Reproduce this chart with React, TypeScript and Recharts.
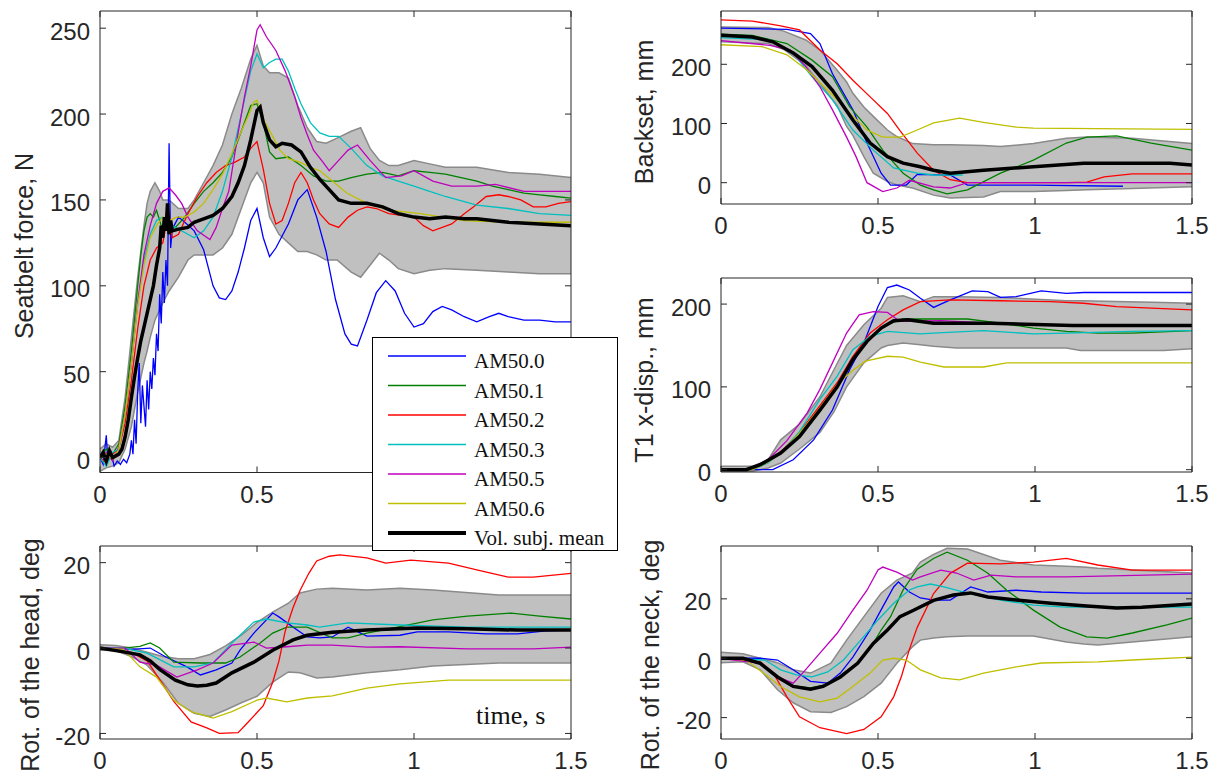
import { ComposedChart, Line, Area, XAxis, YAxis, Legend, Customized } from 'recharts'

type Pt = [number, number]
type Band = [number, number, number]

const sans = '"Liberation Sans", Arial, Helvetica, sans-serif'
const serif = '"Liberation Serif", "Times New Roman", serif'
const ink = '#262626'

const subjects = ['AM50.0', 'AM50.1', 'AM50.2', 'AM50.3', 'AM50.5', 'AM50.6']
const subjectColors = ['#0000ff', '#008000', '#ff0000', '#00bfbf', '#bf00bf', '#bfbf00']
const meanName = 'Vol. subj. mean'
const xTicks = [0, 0.5, 1, 1.5]

// Seatbelt force, N
const beltBlue: Pt[] = [[0, 0], [0.01, -4], [0.02, 13], [0.025, -2], [0.035, 3], [0.045, -5], [0.055, -2], [0.065, -4], [0.075, -1], [0.085, -3], [0.095, 2], [0.1, 10], [0.105, 2], [0.11, 22], [0.115, 8], [0.12, 38], [0.125, 55], [0.13, 20], [0.135, 42], [0.14, 30], [0.145, 18], [0.15, 45], [0.155, 28], [0.16, 50], [0.165, 40], [0.17, 58], [0.175, 48], [0.18, 72], [0.185, 62], [0.19, 95], [0.195, 78], [0.2, 108], [0.205, 90], [0.21, 115], [0.215, 100], [0.22, 183], [0.225, 122], [0.23, 133], [0.25, 140], [0.27, 137], [0.3, 132], [0.33, 121], [0.36, 100], [0.38, 93], [0.4, 92], [0.42, 97], [0.44, 108], [0.46, 122], [0.48, 138], [0.5, 145], [0.52, 128], [0.54, 117], [0.56, 122], [0.6, 136], [0.63, 150], [0.66, 156], [0.69, 140], [0.72, 120], [0.75, 92], [0.78, 72], [0.8, 66], [0.82, 65], [0.85, 80], [0.88, 96], [0.91, 103], [0.94, 97], [0.97, 84], [1.0, 76], [1.03, 78], [1.06, 85], [1.09, 88], [1.12, 86], [1.16, 82], [1.2, 79], [1.24, 82], [1.27, 84], [1.3, 82], [1.35, 80], [1.4, 80], [1.45, 79], [1.5, 79]]
const beltGreen: Pt[] = [[0, 0], [0.02, 5], [0.04, 2], [0.06, 8], [0.08, 30], [0.1, 62], [0.12, 100], [0.13, 118], [0.14, 132], [0.15, 140], [0.16, 142], [0.17, 140], [0.18, 144], [0.19, 138], [0.2, 132], [0.22, 136], [0.24, 134], [0.27, 140], [0.3, 148], [0.33, 155], [0.36, 160], [0.39, 166], [0.42, 175], [0.45, 190], [0.48, 205], [0.5, 206], [0.52, 195], [0.54, 178], [0.56, 174], [0.6, 175], [0.64, 170], [0.68, 164], [0.72, 161], [0.76, 161], [0.8, 163], [0.85, 165], [0.9, 166], [0.95, 164], [1.0, 167], [1.05, 166], [1.1, 165], [1.15, 163], [1.2, 161], [1.25, 158], [1.3, 156], [1.35, 154], [1.4, 153], [1.45, 152], [1.5, 151]]
const beltRed: Pt[] = [[0, 0], [0.02, -3], [0.04, 2], [0.06, 5], [0.08, 20], [0.1, 45], [0.12, 75], [0.14, 100], [0.16, 115], [0.18, 122], [0.2, 125], [0.21, 135], [0.22, 142], [0.23, 128], [0.25, 130], [0.28, 142], [0.31, 152], [0.34, 160], [0.37, 166], [0.4, 170], [0.43, 172], [0.46, 175], [0.48, 180], [0.5, 184], [0.52, 168], [0.54, 148], [0.56, 136], [0.58, 138], [0.6, 148], [0.62, 160], [0.64, 166], [0.66, 160], [0.68, 150], [0.7, 142], [0.73, 136], [0.76, 134], [0.79, 140], [0.82, 144], [0.85, 146], [0.88, 145], [0.92, 142], [0.96, 141], [1.0, 140], [1.03, 135], [1.06, 132], [1.09, 134], [1.12, 136], [1.16, 142], [1.19, 146], [1.23, 152], [1.27, 153], [1.3, 152], [1.34, 150], [1.38, 146], [1.42, 146], [1.46, 148], [1.5, 149]]
const beltCyan: Pt[] = [[0, 0], [0.02, -5], [0.04, 3], [0.06, 5], [0.08, 25], [0.1, 55], [0.12, 90], [0.14, 115], [0.16, 130], [0.18, 138], [0.2, 140], [0.22, 136], [0.25, 133], [0.28, 130], [0.3, 128], [0.33, 132], [0.36, 140], [0.39, 155], [0.42, 175], [0.45, 200], [0.48, 225], [0.5, 235], [0.52, 227], [0.54, 230], [0.56, 232], [0.58, 232], [0.6, 225], [0.62, 215], [0.64, 206], [0.67, 195], [0.7, 189], [0.73, 187], [0.76, 187], [0.8, 180], [0.85, 170], [0.9, 164], [0.95, 161], [1.0, 158], [1.05, 155], [1.1, 152], [1.2, 147], [1.3, 145], [1.4, 142], [1.5, 141]]
const beltMagenta: Pt[] = [[0, 0], [0.02, 3], [0.04, -2], [0.06, 6], [0.08, 25], [0.1, 55], [0.12, 90], [0.14, 118], [0.16, 135], [0.18, 148], [0.2, 155], [0.22, 157], [0.24, 153], [0.26, 148], [0.28, 140], [0.31, 132], [0.35, 127], [0.37, 134], [0.39, 145], [0.41, 155], [0.44, 189], [0.46, 210], [0.48, 228], [0.5, 249], [0.51, 252], [0.53, 245], [0.56, 237], [0.59, 225], [0.62, 210], [0.64, 198], [0.66, 188], [0.68, 179], [0.71, 172], [0.73, 167], [0.76, 173], [0.79, 179], [0.82, 182], [0.86, 173], [0.91, 163], [0.96, 164], [1.0, 167], [1.06, 161], [1.12, 158], [1.2, 158], [1.26, 159], [1.35, 155], [1.42, 155], [1.5, 155]]
const beltYellow: Pt[] = [[0, 0], [0.02, 2], [0.04, -1], [0.06, 5], [0.08, 25], [0.1, 55], [0.12, 88], [0.14, 112], [0.16, 128], [0.18, 135], [0.2, 140], [0.22, 138], [0.245, 140], [0.27, 140], [0.3, 143], [0.33, 148], [0.36, 156], [0.39, 165], [0.42, 177], [0.45, 190], [0.47, 198], [0.49, 207], [0.5, 208], [0.52, 197], [0.55, 187], [0.573, 179], [0.6, 174], [0.637, 172], [0.67, 169], [0.7, 167], [0.74, 161], [0.786, 154], [0.85, 148], [0.92, 144], [1.02, 142], [1.16, 138], [1.3, 137], [1.5, 137]]
const beltMean: Pt[] = [[0, 0], [0.01, 3], [0.02, -2], [0.03, 4], [0.04, 0], [0.05, 1], [0.06, 2], [0.07, 5], [0.08, 12], [0.09, 22], [0.1, 35], [0.11, 47], [0.12, 58], [0.13, 68], [0.14, 76], [0.15, 84], [0.16, 92], [0.17, 100], [0.18, 112], [0.19, 122], [0.195, 135], [0.2, 128], [0.205, 140], [0.21, 132], [0.215, 148], [0.22, 130], [0.225, 138], [0.23, 132], [0.25, 133], [0.28, 134], [0.3, 137], [0.33, 139], [0.36, 141], [0.39, 145], [0.42, 152], [0.44, 160], [0.46, 170], [0.48, 185], [0.5, 202], [0.51, 204], [0.52, 195], [0.54, 185], [0.56, 181], [0.58, 183], [0.61, 182], [0.64, 178], [0.67, 169], [0.7, 162], [0.73, 156], [0.76, 150], [0.8, 148], [0.85, 148], [0.9, 146], [0.95, 142], [1.0, 140], [1.05, 139], [1.1, 140], [1.16, 139], [1.2, 139], [1.3, 137], [1.4, 136], [1.5, 135]]
const beltBand: Band[] = [[0, -8, 5], [0.02, -6, 8], [0.04, -5, 6], [0.06, -3, 10], [0.08, 5, 35], [0.1, 18, 70], [0.12, 38, 105], [0.14, 55, 135], [0.15, 62, 148], [0.16, 70, 155], [0.175, 80, 160], [0.19, 86, 155], [0.2, 90, 150], [0.22, 97, 150], [0.25, 105, 145], [0.28, 115, 145], [0.3, 118, 150], [0.33, 118, 160], [0.36, 118, 170], [0.39, 122, 182], [0.42, 130, 200], [0.45, 145, 215], [0.48, 160, 232], [0.5, 166, 240], [0.52, 160, 228], [0.54, 140, 224], [0.57, 130, 224], [0.6, 125, 221], [0.63, 120, 205], [0.66, 120, 192], [0.69, 118, 184], [0.72, 115, 183], [0.755, 115, 186], [0.8, 108, 190], [0.83, 105, 192], [0.86, 112, 180], [0.89, 119, 173], [0.92, 115, 170], [0.95, 110, 170], [1.0, 107, 173], [1.05, 109, 171], [1.1, 110, 169], [1.2, 109, 169], [1.3, 108, 166], [1.4, 107, 165], [1.5, 107, 163]]

// Rot. of the head, deg
const headBlue: Pt[] = [[0, 0], [0.1, -0.3], [0.16, 0], [0.21, -2.1], [0.277, -4.4], [0.32, -6.3], [0.37, -5.1], [0.42, -3.5], [0.446, -0.5], [0.49, 3.5], [0.53, 6.6], [0.55, 8.2], [0.57, 7.3], [0.615, 4.9], [0.66, 2.6], [0.7, 2.4], [0.74, 2.6], [0.79, 4.9], [0.85, 2.8], [0.955, 3], [1.01, 3.8], [1.11, 3.8], [1.23, 3.3], [1.33, 3.3], [1.42, 4], [1.5, 4.2]]
const headGreen: Pt[] = [[0, 0], [0.075, 0], [0.127, 0.4], [0.16, 1.2], [0.19, 0], [0.235, -3.3], [0.32, -3.5], [0.4, -3.5], [0.446, -2.1], [0.51, 1.2], [0.55, 3.5], [0.595, 4.9], [0.66, 4.9], [0.74, 2.4], [0.79, 2.4], [0.85, 3.5], [0.955, 5], [1.06, 6.6], [1.17, 7.5], [1.31, 8.2], [1.4, 7.5], [1.5, 6.8]]
const headRed: Pt[] = [[0, 0], [0.1, -1], [0.15, -3], [0.2, -8.5], [0.235, -12.5], [0.29, -17.3], [0.34, -18.7], [0.38, -20], [0.44, -19.8], [0.47, -17.5], [0.52, -13.5], [0.55, -8], [0.57, -3], [0.59, 4], [0.615, 9.5], [0.637, 13.5], [0.665, 17.5], [0.69, 20.4], [0.73, 21.5], [0.764, 21.8], [0.85, 21.1], [0.91, 19.9], [0.99, 20.6], [1.11, 19.9], [1.2, 18.3], [1.3, 16.6], [1.38, 16.6], [1.5, 17.5]]
const headCyan: Pt[] = [[0, 0], [0.075, 0], [0.15, -1.2], [0.235, -4.4], [0.3, -4.4], [0.36, -3.5], [0.42, 1.2], [0.49, 6.1], [0.53, 6.8], [0.595, 5.9], [0.66, 5.4], [0.7, 4.9], [0.79, 5.9], [0.955, 5.4], [1.17, 4.9], [1.5, 4.9]]
const headMagenta: Pt[] = [[0, 0], [0.08, 0], [0.127, -3.3], [0.18, -4], [0.245, -6.8], [0.31, -5.1], [0.36, -3.5], [0.42, 0.7], [0.49, 1.4], [0.53, 0], [0.595, 0.3], [0.66, 0.7], [0.74, 0.7], [0.85, 0.2], [0.955, 0.3], [1.17, -0.2], [1.38, -0.2], [1.5, 0.2]]
const headYellow: Pt[] = [[0, 0], [0.075, -0.3], [0.127, -4.4], [0.18, -6.8], [0.235, -12.2], [0.29, -14.9], [0.36, -16.4], [0.42, -14.9], [0.5, -12.2], [0.53, -11.7], [0.595, -12.6], [0.66, -11.7], [0.74, -11.2], [0.85, -9.4], [0.955, -8.4], [1.11, -7.5], [1.27, -7.5], [1.5, -7.5]]
const headMean: Pt[] = [[0, 0], [0.075, -0.9], [0.127, -1.6], [0.16, -3], [0.19, -5], [0.24, -7.5], [0.28, -8.6], [0.31, -8.9], [0.34, -8.7], [0.37, -8.2], [0.42, -5.8], [0.49, -3.3], [0.55, -0.5], [0.615, 1.9], [0.66, 3.0], [0.74, 3.7], [0.85, 4.2], [1.01, 4.7], [1.17, 4.5], [1.33, 4.2], [1.5, 4.2]]
const headBand: Band[] = [[0, -0.5, 0.8], [0.05, -0.6, 0.6], [0.1, -2, 0], [0.15, -4, -1], [0.2, -8, -2], [0.25, -13, -2.5], [0.3, -15.3, -2.5], [0.35, -16, -1.5], [0.4, -14.5, 0.5], [0.45, -12.8, 3], [0.5, -11.3, 6], [0.55, -8, 8.4], [0.6, -5.6, 10.5], [0.637, -5.8, 12.9], [0.69, -7, 13.8], [0.74, -6.8, 14], [0.85, -5.8, 13.6], [0.955, -5.1, 14], [1.06, -4.2, 13.6], [1.27, -3.5, 12.4], [1.5, -3.5, 12.4]]

// Backset, mm
const backBlue: Pt[] = [[0, 261], [0.21, 259], [0.285, 252], [0.315, 235], [0.355, 184], [0.42, 123], [0.465, 67], [0.51, 16], [0.54, -4], [0.59, -4], [0.625, 14], [0.73, 13], [0.785, -4], [0.995, -4], [1.28, -6]]
const backGreen: Pt[] = [[0, 251], [0.1, 249], [0.21, 235], [0.29, 207], [0.355, 179], [0.41, 128], [0.465, 94], [0.515, 55], [0.58, 16], [0.635, -4], [0.677, -12], [0.72, -19], [0.785, -12], [0.89, 16], [0.995, 38], [1.1, 67], [1.165, 77], [1.26, 79], [1.37, 67], [1.5, 55]]
const backRed: Pt[] = [[0, 275], [0.1, 273], [0.19, 265], [0.25, 258], [0.315, 224], [0.37, 201], [0.42, 173], [0.475, 145], [0.53, 117], [0.57, 88], [0.625, 50], [0.677, 21], [0.73, 5], [0.785, 0], [0.975, 0], [1.1, 0], [1.165, 1], [1.22, 10], [1.31, 15], [1.5, 15]]
const backCyan: Pt[] = [[0, 245], [0.156, 241], [0.23, 219], [0.29, 179], [0.355, 140], [0.42, 89], [0.485, 55], [0.55, 25], [0.625, 16], [0.677, 13], [0.77, 13]]
const backMagenta: Pt[] = [[0, 240], [0.156, 232], [0.22, 224], [0.27, 196], [0.315, 162], [0.355, 123], [0.4, 77], [0.43, 44], [0.465, 0], [0.515, -15], [0.56, -9], [0.6, 4], [0.677, -7], [0.73, -9], [0.785, 0], [1.5, 0]]
const backYellow: Pt[] = [[0, 233], [0.13, 230], [0.21, 216], [0.275, 190], [0.34, 156], [0.4, 123], [0.465, 89], [0.515, 77], [0.57, 77], [0.625, 89], [0.677, 101], [0.76, 109], [0.836, 102], [0.94, 94], [0.995, 92], [1.5, 90]]
const backMean: Pt[] = [[0, 249], [0.1, 246], [0.165, 238], [0.23, 219], [0.29, 196], [0.355, 156], [0.42, 106], [0.475, 67], [0.53, 44], [0.58, 33], [0.635, 27], [0.677, 21], [0.73, 16], [0.836, 21], [0.995, 27], [1.155, 33], [1.31, 33], [1.43, 33], [1.5, 30]]
const backBand: Band[] = [[0, 238, 263], [0.15, 235, 262], [0.2, 225, 256], [0.27, 198, 241], [0.315, 168, 224], [0.37, 130, 190], [0.4, 95, 170], [0.42, 80, 151], [0.455, 44, 128], [0.485, 16, 112], [0.53, 2, 89], [0.56, -4, 78], [0.61, -9, 66], [0.677, -21, 64], [0.73, -26, 64], [0.836, -24, 63], [0.89, -15, 61], [0.995, -15, 66], [1.1, -13, 75], [1.165, -12, 77], [1.31, -10, 75], [1.5, -7, 66]]

// T1 x-disp., mm
const t1Blue: Pt[] = [[0, 0], [0.165, 0], [0.23, 12], [0.295, 36], [0.355, 72], [0.41, 121], [0.455, 153], [0.5, 197], [0.53, 220], [0.56, 223], [0.6, 217], [0.635, 207], [0.677, 196], [0.73, 205], [0.8, 216], [0.85, 215], [0.89, 208], [0.94, 209], [1.02, 216], [1.1, 213], [1.155, 214], [1.5, 214]]
const t1Green: Pt[] = [[0, 0], [0.1, 0], [0.15, 9], [0.2, 24], [0.25, 43], [0.31, 72], [0.37, 103], [0.42, 134], [0.47, 158], [0.52, 174], [0.58, 182], [0.785, 182], [0.89, 177], [0.995, 171], [1.1, 167], [1.2, 165], [1.31, 165], [1.5, 168]]
const t1Red: Pt[] = [[0, 0], [0.1, 0], [0.15, 10], [0.2, 25], [0.25, 45], [0.31, 75], [0.37, 105], [0.42, 137], [0.475, 165], [0.53, 181], [0.58, 193], [0.635, 203], [0.73, 205], [0.89, 204], [1.05, 203], [1.155, 201], [1.26, 197], [1.5, 193]]
const t1Cyan: Pt[] = [[0, 0], [0.1, 0], [0.15, 8], [0.2, 24], [0.25, 46], [0.315, 85], [0.37, 113], [0.42, 145], [0.475, 161], [0.53, 167], [0.635, 164], [0.677, 165], [0.836, 168], [0.995, 164], [1.1, 165], [1.31, 167], [1.5, 168]]
const t1Magenta: Pt[] = [[0, 0], [0.1, 1], [0.15, 12], [0.21, 35], [0.275, 69], [0.315, 97], [0.355, 129], [0.4, 165], [0.44, 187], [0.485, 191], [0.53, 190], [0.57, 179], [0.7, 180], [0.86, 177], [1.12, 174], [1.5, 174]]
const t1Yellow: Pt[] = [[0, 0], [0.1, 0], [0.15, 9], [0.2, 24], [0.25, 44], [0.31, 72], [0.37, 103], [0.42, 120], [0.46, 131], [0.53, 137], [0.58, 136], [0.635, 130], [0.71, 124], [0.836, 124], [0.91, 129], [1.5, 129]]
const t1Mean: Pt[] = [[0, 0], [0.08, 0], [0.125, 6], [0.19, 20], [0.25, 40], [0.315, 72], [0.37, 100], [0.42, 133], [0.465, 155], [0.51, 171], [0.55, 180], [0.595, 181], [0.677, 177], [0.86, 177], [1.12, 174], [1.5, 174]]
const t1Band: Band[] = [[0, -3, 4], [0.1, -2, 4], [0.15, 2, 12], [0.19, 8, 36], [0.25, 25, 55], [0.315, 45, 88], [0.36, 70, 121], [0.4, 100, 150], [0.455, 129, 175], [0.51, 147, 195], [0.53, 150, 208], [0.58, 153, 210], [0.635, 151, 203], [0.677, 149, 209], [0.75, 147, 209], [0.89, 147, 208], [1.1, 147, 204], [1.145, 144, 204], [1.41, 144, 202], [1.5, 146, 201]]

// Rot. of the neck, deg
const neckBlue: Pt[] = [[0, 0], [0.125, 0], [0.18, -0.6], [0.23, -3.9], [0.285, -7.8], [0.34, -8.4], [0.38, -5], [0.42, 0.4], [0.475, 9.5], [0.515, 17.3], [0.55, 24], [0.565, 25.7], [0.6, 22.3], [0.635, 20.3], [0.677, 19.6], [0.73, 19.6], [0.795, 24], [0.85, 22.3], [0.94, 22.9], [1.02, 22.3], [1.155, 21.9], [1.5, 21.9]]
const neckGreen: Pt[] = [[0, 0], [0.07, 0], [0.125, -1.7], [0.18, -6.3], [0.23, -9.3], [0.285, -10], [0.33, -9], [0.38, -6], [0.435, -1.5], [0.485, 5], [0.51, 9.5], [0.54, 14], [0.58, 23], [0.625, 30], [0.677, 33.6], [0.72, 35.7], [0.785, 33], [0.85, 28.6], [0.91, 22.9], [0.995, 16.2], [1.08, 10.5], [1.165, 7.2], [1.23, 6.8], [1.31, 8.5], [1.42, 11.2], [1.5, 13.5]]
const neckRed: Pt[] = [[0, 0], [0.125, -1.2], [0.167, -5], [0.21, -13], [0.25, -19.7], [0.315, -23.4], [0.4, -25.4], [0.455, -24], [0.51, -19.7], [0.55, -13], [0.575, -6], [0.6, 3], [0.625, 10.4], [0.677, 21.8], [0.73, 28.6], [0.785, 32], [0.89, 31.8], [0.995, 32.4], [1.1, 33.6], [1.2, 31.4], [1.31, 29.7], [1.5, 29.7]]
const neckCyan: Pt[] = [[0, 0], [0.14, -0.6], [0.19, -3.9], [0.24, -5.6], [0.29, -6.3], [0.34, -4.6], [0.39, -0.6], [0.445, 6.1], [0.5, 12.9], [0.55, 18.5], [0.6, 23], [0.625, 24], [0.667, 25], [0.71, 24], [0.785, 21.9], [0.89, 19.6], [0.995, 17.9], [1.1, 17.2], [1.5, 17.2]]
const neckMagenta: Pt[] = [[0, 0], [0.125, -1.7], [0.18, -6.3], [0.23, -8.4], [0.26, -5], [0.315, 1.7], [0.37, 8.4], [0.42, 16.2], [0.465, 22.9], [0.5, 29.7], [0.515, 30.7], [0.56, 29], [0.61, 26.3], [0.635, 27.4], [0.7, 29.7], [0.75, 28.7], [0.805, 26.3], [0.86, 28], [0.94, 27.4], [1.1, 27.4], [1.5, 28.3]]
const neckYellow: Pt[] = [[0, 0], [0.08, -0.6], [0.135, -5], [0.19, -9.5], [0.25, -13], [0.315, -14.7], [0.37, -13.4], [0.42, -9.5], [0.475, -5], [0.515, -0.6], [0.55, 0], [0.59, -0.6], [0.635, -3.9], [0.7, -6.6], [0.76, -7.3], [0.836, -5], [0.94, -2.9], [1.02, -1.6], [1.2, -1.2], [1.31, -0.6], [1.5, 0.4]]
const neckMean: Pt[] = [[0, 0], [0.07, 0], [0.125, -1.7], [0.18, -6.3], [0.23, -9.5], [0.285, -10.4], [0.325, -9.5], [0.38, -6.3], [0.435, -1.7], [0.485, 5], [0.53, 9.5], [0.57, 14], [0.61, 16], [0.677, 19.5], [0.74, 21.3], [0.795, 22], [0.85, 20.6], [0.94, 19.6], [1.05, 18.5], [1.165, 17.6], [1.26, 16.9], [1.34, 17.2], [1.5, 18.3]]
const neckBand: Band[] = [[0, -1.5, 2], [0.07, -1.2, 1.5], [0.125, -3.9, 0], [0.18, -10.6, -1.5], [0.23, -15, -3.9], [0.285, -18, -5], [0.35, -18.3, -1.7], [0.4, -16.3, 6.1], [0.455, -12.9, 14], [0.51, -8.4, 21.9], [0.56, -1.7, 26.3], [0.61, 3.9, 28.7], [0.635, 6.1, 32.4], [0.677, 6.8, 35], [0.72, 7.2, 37], [0.785, 7.5, 36.8], [0.89, 7.5, 33], [0.995, 7.5, 31.4], [1.1, 5.5, 31], [1.155, 4.8, 30.7], [1.2, 4.5, 30.3], [1.31, 5.5, 29.7], [1.5, 7.2, 28.7]]

const toPts = (a: Pt[]) => a.map(([t, v]) => ({ t, v }))
const toBand = (a: Band[]) => a.map(([t, lo, hi]) => ({ t, r: [lo, hi] }))

const Y_W = 60
const X_H = 30

interface PanelSpec {
  id: string
  pos: { left: number; top: number; width: number; height: number }
  box: { x: number; y: number; w: number; h: number }
  yDomain: [number, number]
  yTicks: number[]
  title: string
  titleX: number
  titleY: number
  lines: Pt[][]
  mean: Pt[]
  band: Band[]
  legend?: boolean
  xLabel?: boolean
}

const panels: PanelSpec[] = [
  {
    id: 'belt',
    pos: { left: 0, top: 0, width: 600, height: 512 },
    box: { x: 100, y: 11, w: 471, h: 461.5 },
    yDomain: [-8.7, 260],
    yTicks: [0, 50, 100, 150, 200, 250],
    title: 'Seatbelt force, N',
    titleX: 33,
    titleY: 246,
    lines: [beltBlue, beltGreen, beltRed, beltCyan, beltMagenta, beltYellow],
    mean: beltMean,
    band: beltBand,
    legend: true,
  },
  {
    id: 'head',
    pos: { left: 0, top: 512, width: 600, height: 264 },
    box: { x: 100, y: 546, w: 471, h: 193 },
    yDomain: [-21.3, 23.9],
    yTicks: [-20, 0, 20],
    title: 'Rot. of the head, deg',
    titleX: 38.5,
    titleY: 655,
    lines: [headBlue, headGreen, headRed, headCyan, headMagenta, headYellow],
    mean: headMean,
    band: headBand,
    xLabel: true,
  },
  {
    id: 'back',
    pos: { left: 610, top: 0, width: 608, height: 250 },
    box: { x: 721, y: 11, w: 471, h: 193 },
    yDomain: [-36, 290],
    yTicks: [0, 100, 200],
    title: 'Backset, mm',
    titleX: 653,
    titleY: 112,
    lines: [backBlue, backGreen, backRed, backCyan, backMagenta, backYellow],
    mean: backMean,
    band: backBand,
  },
  {
    id: 't1',
    pos: { left: 610, top: 250, width: 608, height: 262 },
    box: { x: 721, y: 278, w: 471, h: 194 },
    yDomain: [-2.8, 231.5],
    yTicks: [0, 100, 200],
    title: 'T1 x-disp., mm',
    titleX: 653,
    titleY: 380,
    lines: [t1Blue, t1Green, t1Red, t1Cyan, t1Magenta, t1Yellow],
    mean: t1Mean,
    band: t1Band,
  },
  {
    id: 'neck',
    pos: { left: 610, top: 512, width: 608, height: 264 },
    box: { x: 721, y: 546, w: 471, h: 193 },
    yDomain: [-27.2, 37.8],
    yTicks: [-20, 0, 20],
    title: 'Rot. of the neck, deg',
    titleX: 659,
    titleY: 655,
    lines: [neckBlue, neckGreen, neckRed, neckCyan, neckMagenta, neckYellow],
    mean: neckMean,
    band: neckBand,
  },
]

const XTick = (props: any) => {
  const { x, y, payload } = props
  return (
    <text x={x} y={y} dy={17} textAnchor="middle" fontSize={24} fontFamily={sans} fill={ink}>
      {String(payload.value)}
    </text>
  )
}

const YTick = (props: any) => {
  const { x, y, payload } = props
  return (
    <text x={x} y={y} dy={11.5} textAnchor="end" fontSize={24} fontFamily={sans} fill={ink}>
      {String(payload.value)}
    </text>
  )
}

const NoTick = () => <g />

const renderLegend = () => {
  const names = [...subjects, meanName]
  const colors = [...subjectColors, '#000000']
  return (
    <svg width={246} height={214} style={{ display: 'block' }}>
      <rect x={0.5} y={0.5} width={245} height={213} fill="#fff" stroke="#000" />
      {names.map((n, i) => {
        const y = 19 + i * 29.5
        return (
          <g key={n}>
            <line x1={16} x2={94} y1={y} y2={y} stroke={colors[i]} strokeWidth={i === 6 ? 4 : 1.5} />
            <text x={102} y={y + 12} fontFamily={serif} fontSize={21} fill="#111">
              {n}
            </text>
          </g>
        )
      })}
    </svg>
  )
}

function Panel({ spec }: { spec: PanelSpec }) {
  const { pos, box } = spec
  const margin = {
    top: box.y - pos.top - 1,
    left: box.x - pos.left - Y_W,
    right: pos.left + pos.width - (box.x + box.w) - 1,
    bottom: pos.top + pos.height - (box.y + box.h) - X_H,
  }
  const tx = spec.titleX - pos.left
  const ty = spec.titleY - pos.top

  return (
    <div style={{ position: 'absolute', left: pos.left, top: pos.top }}>
      <ComposedChart width={pos.width} height={pos.height} margin={margin}>
        <XAxis
          type="number"
          dataKey="t"
          domain={[0, 1.5]}
          ticks={xTicks}
          interval={0}
          allowDataOverflow
          height={X_H}
          tickSize={-6}
          tickMargin={19}
          stroke={ink}
          tick={<XTick />}
        />
        <XAxis
          xAxisId="top"
          orientation="top"
          type="number"
          dataKey="t"
          domain={[0, 1.5]}
          ticks={xTicks}
          interval={0}
          allowDataOverflow
          height={1}
          tickSize={-6}
          stroke={ink}
          tick={NoTick}
        />
        <YAxis
          type="number"
          domain={spec.yDomain}
          ticks={spec.yTicks}
          interval={0}
          allowDataOverflow
          width={Y_W}
          tickSize={-6}
          tickMargin={16}
          stroke={ink}
          tick={<YTick />}
        />
        <YAxis
          yAxisId="right"
          orientation="right"
          type="number"
          domain={spec.yDomain}
          ticks={spec.yTicks}
          interval={0}
          allowDataOverflow
          width={1}
          tickSize={-6}
          stroke={ink}
          tick={NoTick}
        />
        <Area
          data={toBand(spec.band)}
          dataKey="r"
          type="linear"
          stroke="#8a8a8a"
          strokeWidth={1.5}
          fill="#c0c0c0"
          fillOpacity={1}
          dot={false}
          activeDot={false}
          legendType="none"
          isAnimationActive={false}
        />
        {spec.lines.map((l, i) => (
          <Line
            key={subjects[i]}
            data={toPts(l)}
            dataKey="v"
            name={subjects[i]}
            type="linear"
            stroke={subjectColors[i]}
            strokeWidth={1.3}
            dot={false}
            activeDot={false}
            isAnimationActive={false}
          />
        ))}
        <Line
          data={toPts(spec.mean)}
          dataKey="v"
          name={meanName}
          type="linear"
          stroke="#000"
          strokeWidth={3.5}
          dot={false}
          activeDot={false}
          isAnimationActive={false}
        />
        <Customized
          component={() => (
            <g>
              <text
                x={tx}
                y={ty}
                transform={`rotate(-90, ${tx}, ${ty})`}
                textAnchor="middle"
                fontSize={25}
                fontFamily={sans}
                fill={ink}
              >
                {spec.title}
              </text>
              {spec.xLabel && (
                <text x={476 - pos.left} y={724 - pos.top} fontSize={26} fontFamily={serif} fill="#111">
                  time, s
                </text>
              )}
            </g>
          )}
        />
        {spec.legend && (
          <Legend
            layout="vertical"
            align="center"
            verticalAlign="middle"
            content={renderLegend}
            wrapperStyle={{ left: 372, top: 337, width: 246, height: 214, zIndex: 10 }}
          />
        )}
      </ComposedChart>
    </div>
  )
}

export default function App() {
  return (
    <div style={{ position: 'absolute', left: 0, top: 0, width: 1218, height: 776, background: '#fff' }}>
      {panels.map((p) => (
        <Panel key={p.id} spec={p} />
      ))}
    </div>
  )
}
